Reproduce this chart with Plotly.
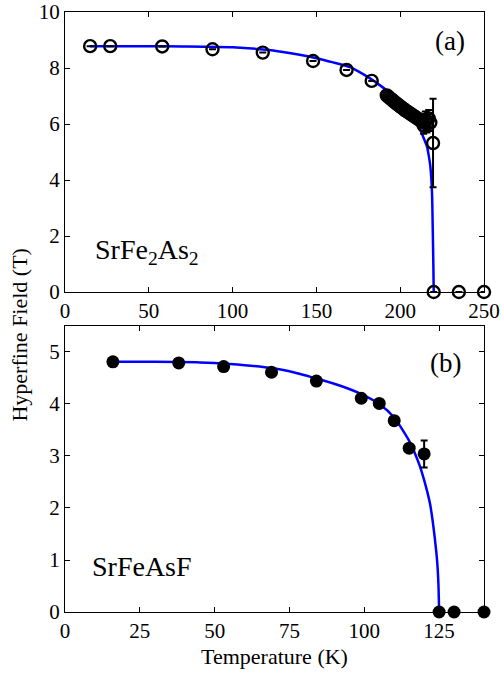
import plotly.graph_objects as go

# ---------- Panel (a): SrFe2As2 ----------
a_T = [15, 27, 58, 88, 118, 148, 168, 183,
       192, 193, 194, 195, 196, 197, 198, 199, 200, 201, 202, 203, 204, 205,
       206, 207, 208, 209, 210, 211, 212, 213,
       214, 215, 216, 217, 218, 219.6,
       220, 235, 250]
a_H = [8.78, 8.78, 8.77, 8.67, 8.55, 8.25, 7.93, 7.54,
       7.02, 6.97, 6.92, 6.87, 6.82, 6.77, 6.72, 6.68, 6.63, 6.58, 6.54, 6.49, 6.45, 6.41,
       6.37, 6.33, 6.29, 6.25, 6.21, 6.17, 6.13, 6.08,
       5.95, 6.15, 6.0, 6.2, 6.05, 5.32,
       0, 0, 0]
a_err = [0, 0, 0, 0, 0, 0, 0, 0,
         0, 0, 0, 0, 0, 0, 0, 0, 0, 0, 0, 0, 0, 0,
         0, 0, 0, 0, 0, 0, 0, 0,
         0.3, 0.3, 0.3, 0.3, 0.3, 1.58,
         0, 0, 0]
a_fitT = [15, 30, 50, 70, 100, 120, 130, 140, 150, 160, 170, 175, 182, 188, 194, 199,
          204, 208, 212, 214, 216, 217, 218, 219, 219.4, 219.8, 220]
a_fitH = [8.78, 8.78, 8.78, 8.77, 8.74, 8.65, 8.57, 8.47, 8.35, 8.2, 8.03, 7.88, 7.63, 7.38, 7.1, 6.82,
          6.5, 6.17, 5.79, 5.5, 5.19, 4.88, 4.48, 3.52, 2.33, 0.9, 0]

# ---------- Panel (b): SrFeAsF ----------
b_T = [16, 38, 53, 69, 84, 99, 105, 110, 115, 120, 125, 130, 140]
b_H = [4.81, 4.79, 4.72, 4.61, 4.44, 4.11, 4.01, 3.68, 3.15, 3.04, 0, 0, 0]
b_err = [0, 0, 0, 0, 0, 0, 0, 0, 0, 0.26, 0, 0, 0]
b_fitT = [16, 30, 45, 55, 65, 75, 84, 92, 99, 105, 110, 115, 117, 118.6, 120.6, 122, 122.8,
          123.5, 124.1, 124.5, 124.8, 125]
b_fitH = [4.81, 4.81, 4.8, 4.77, 4.72, 4.63, 4.49, 4.35, 4.19, 4.0, 3.74, 3.29, 3.04, 2.8, 2.41, 2.07, 1.77,
          1.45, 1.13, 0.85, 0.49, 0]

a_xticks = [0, 50, 100, 150, 200, 250]
a_yticks = [0, 2, 4, 6, 8, 10]
b_xticks = [0, 25, 50, 75, 100, 125]
b_yticks = [0, 1, 2, 3, 4, 5]

FONT = "Times New Roman, Liberation Serif, serif"
BLUE = "#0000FF"

fig = go.Figure()

fig.add_trace(go.Scatter(x=a_fitT, y=a_fitH, mode="lines",
                         line=dict(color=BLUE, width=2.5, shape="spline", smoothing=0.6),
                         xaxis="x", yaxis="y", cliponaxis=False, showlegend=False))
fig.add_trace(go.Scatter(x=a_T, y=a_H, mode="markers",
                         marker=dict(symbol="circle-open", size=12, color="black",
                                     line=dict(width=2.4, color="black")),
                         error_y=dict(type="data", array=a_err, color="black",
                                      thickness=2, width=3.5),
                         xaxis="x", yaxis="y", cliponaxis=False, showlegend=False))

fig.add_trace(go.Scatter(x=b_fitT, y=b_fitH, mode="lines",
                         line=dict(color=BLUE, width=2.5, shape="spline", smoothing=0.6),
                         xaxis="x2", yaxis="y2", cliponaxis=False, showlegend=False))
fig.add_trace(go.Scatter(x=b_T, y=b_H, mode="markers",
                         marker=dict(symbol="circle", size=13, color="black"),
                         error_y=dict(type="data", array=b_err, color="black",
                                      thickness=2, width=3.5),
                         xaxis="x2", yaxis="y2", cliponaxis=False, showlegend=False))

axis_common = dict(showline=True, linecolor="black", linewidth=1.2, mirror="ticks",
                   ticks="inside", ticklen=5, tickwidth=1, tickcolor="black",
                   showgrid=False, zeroline=False, automargin=False,
                   tickfont=dict(family=FONT, size=21, color="black"))

fig.update_layout(
    width=501, height=674,
    margin=dict(l=65, r=17, t=12, b=62),
    paper_bgcolor="white", plot_bgcolor="white",
    font=dict(family=FONT, color="black"),
    xaxis=dict(domain=[0, 1], range=[0, 250], anchor="y",
               tickvals=a_xticks, ticktext=[str(v) for v in a_xticks], **axis_common),
    yaxis=dict(domain=[0.5333, 1.0], range=[0, 10], anchor="x",
               tickvals=a_yticks, ticktext=[str(v) for v in a_yticks], **axis_common),
    xaxis2=dict(domain=[0, 1], range=[0, 140], anchor="y2",
                tickvals=b_xticks, ticktext=[str(v) for v in b_xticks],
                title=dict(text="Temperature (K)", font=dict(family=FONT, size=22, color="black"),
                           standoff=6),
                **axis_common),
    yaxis2=dict(domain=[0, 0.4767], range=[0, 5.5], anchor="x2",
                tickvals=b_yticks, ticktext=[str(v) for v in b_yticks], **axis_common),
    annotations=[
        dict(text="Hyperfine Field (T)", xref="paper", yref="paper",
             x=-0.108, y=0.462, xanchor="center", yanchor="middle", textangle=-90,
             showarrow=False, font=dict(family=FONT, size=22, color="black")),
        dict(text="(a)", xref="x", yref="y", x=229.7, y=8.95, showarrow=False,
             xanchor="center", yanchor="middle",
             font=dict(family=FONT, size=27, color="black")),
        dict(text="SrFe<sub>2</sub>As<sub>2</sub>", xref="x", yref="y", x=16.5, y=1.45,
             showarrow=False, xanchor="left", yanchor="middle",
             font=dict(family=FONT, size=28, color="black")),
        dict(text="(b)", xref="x2", yref="y2", x=127.3, y=4.78, showarrow=False,
             xanchor="center", yanchor="middle",
             font=dict(family=FONT, size=27, color="black")),
        dict(text="SrFeAsF", xref="x2", yref="y2", x=8.5, y=0.88, showarrow=False,
             xanchor="left", yanchor="middle",
             font=dict(family=FONT, size=28, color="black")),
    ],
)

fig.write_html("out.html", config={"displayModeBar": False},
               post_script="document.body.style.margin='0';document.body.style.overflow='hidden';")
